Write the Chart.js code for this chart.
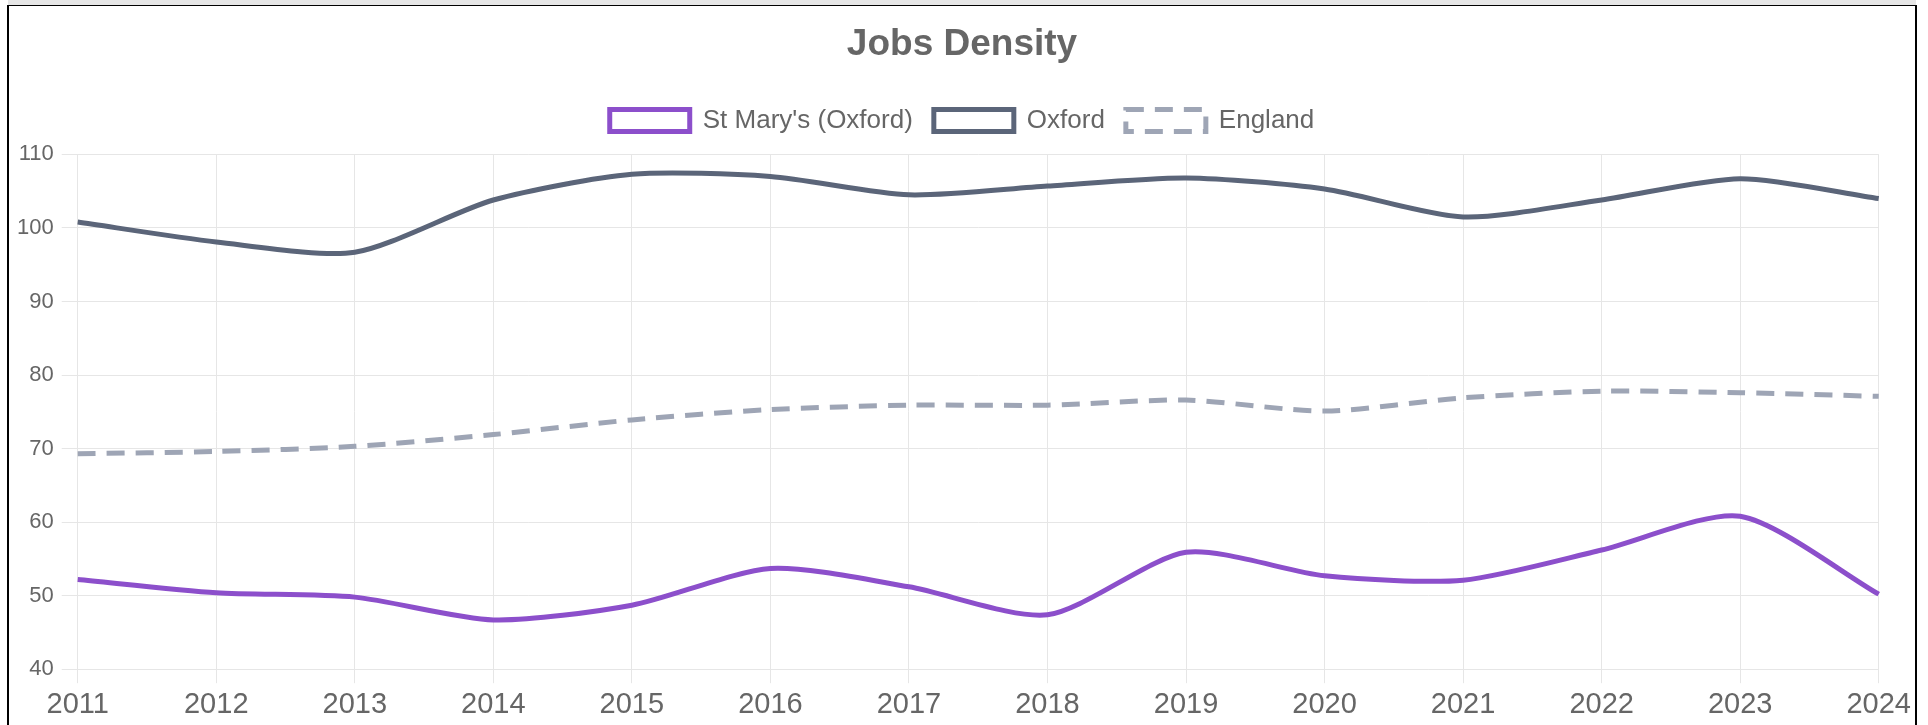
<!DOCTYPE html>
<html>
<head>
<meta charset="utf-8">
<script src="https://cdn.jsdelivr.net/npm/chart.js@4.4.0/dist/chart.umd.min.js"></script>
<style>
  html, body { margin: 0; padding: 0; background: #fff; overflow: hidden; }
  .topband { position: absolute; left: 8px; top: 0; width: 1908px; height: 5px; background: #e6e6e6; }
  .frame {
    position: absolute; left: 7px; top: 5px; width: 1906px; height: 730px;
    border-left: 2px solid #000; border-right: 2px solid #000; border-top: 1px solid #000;
    overflow: hidden;
  }
  canvas { display: block; }
</style>
</head>
<body>
<div class="topband"></div>
<div class="frame">
  <canvas id="jobsChart" width="1906" height="720"></canvas>
</div>
<script>
// Years on the x axis
const years = ['2011', '2012', '2013', '2014', '2015', '2016', '2017',
               '2018', '2019', '2020', '2021', '2022', '2023', '2024'];

// Jobs density values
const stMarys = [52.2, 50.4, 49.8, 46.7, 48.7, 53.7, 51.2, 47.4, 55.9, 52.7, 52.1, 56.2, 60.8, 50.2];
const oxford  = [100.8, 98.1, 96.7, 103.8, 107.3, 107.0, 104.5, 105.7, 106.8, 105.3, 101.5, 103.8, 106.7, 104.0];
const england = [69.3, 69.6, 70.3, 71.9, 73.9, 75.3, 75.9, 75.9, 76.6, 75.1, 76.9, 77.8, 77.6, 77.1];

// y axis range
const yMin = 40;
const yMax = 110;
const yStep = 10;

const FONT = 'Arial, "Liberation Sans", sans-serif';

// add a bit of room under the legend
const legendMargin = {
  id: 'legendMargin',
  beforeInit(chart) {
    const origFit = chart.legend.fit;
    chart.legend.fit = function fit() {
      origFit.bind(chart.legend)();
      this.height += 11;
    };
  }
};

const ctx = document.getElementById('jobsChart').getContext('2d');

new Chart(ctx, {
  type: 'line',
  data: {
    labels: years,
    datasets: [
      {
        label: "St Mary's (Oxford)",
        data: stMarys,
        borderColor: '#8c4fcb',
        backgroundColor: '#ffffff',
        borderWidth: 5,
        pointRadius: 0,
        tension: 0.25
      },
      {
        label: 'Oxford',
        data: oxford,
        borderColor: '#5b6579',
        backgroundColor: '#ffffff',
        borderWidth: 5,
        pointRadius: 0,
        tension: 0.25
      },
      {
        label: 'England',
        data: england,
        borderColor: '#9ea5b5',
        backgroundColor: '#ffffff',
        borderWidth: 5,
        borderDash: [18, 11],
        pointRadius: 0,
        tension: 0.25
      }
    ]
  },
  plugins: [legendMargin],
  options: {
    responsive: false,
    animation: false,
    plugins: {
      title: {
        display: true,
        text: 'Jobs Density',
        color: '#666',
        font: { family: FONT, size: 37, weight: 'bold' },
        padding: { top: 17, bottom: 19 }
      },
      legend: {
        labels: {
          color: '#666',
          boxWidth: 80,
          boxHeight: 22,
          padding: 21,
          font: { family: FONT, size: 26 }
        }
      },
      tooltip: { enabled: false }
    },
    scales: {
      x: {
        grid: { color: '#e6e6e6', tickLength: 14 },
        border: { color: '#e6e6e6' },
        ticks: {
          color: '#666',
          padding: 4,
          maxRotation: 0,
          font: { family: FONT, size: 29 }
        }
      },
      y: {
        min: yMin,
        max: yMax,
        grid: { color: '#e6e6e6', tickLength: 16 },
        border: { color: '#e6e6e6' },
        ticks: {
          stepSize: yStep,
          color: '#666',
          padding: 8,
          font: { family: FONT, size: 22 }
        }
      }
    }
  }
});
</script>
</body>
</html>
